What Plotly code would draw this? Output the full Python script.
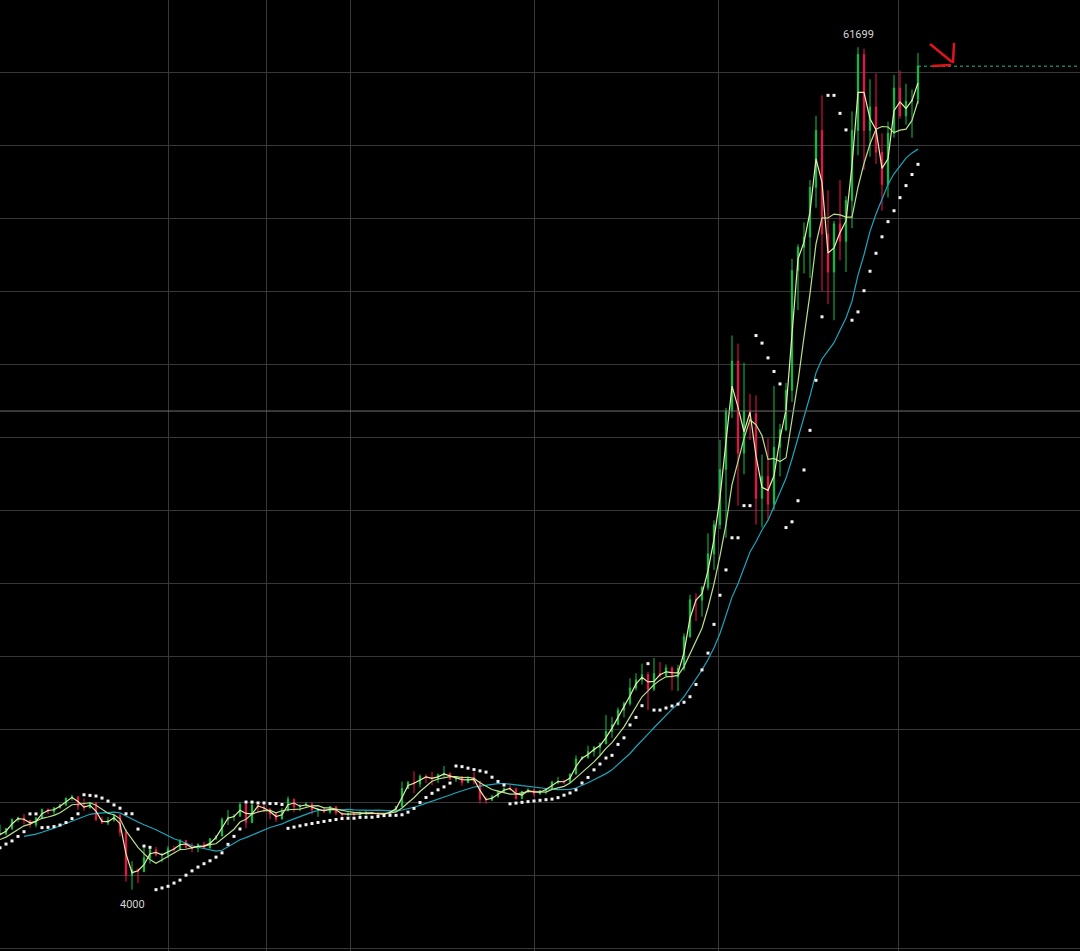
import pandas as pd
import plotly.graph_objects as go

# BTC, 3-day candles (centre day), Dec 2019 - Apr 2021
candle_dates = pd.date_range('2019-12-03', periods=166, freq='3D')

first_open = 7550

close_prices = [
    7200, 7510, 7220, 7250, 6880, 7150, 7510, 7190, 7300, 7190,
    7340, 7760, 7820, 8190, 8810, 8930, 8720, 8440, 8910, 9510,
    9340, 9610, 9810, 10270, 10370, 9710, 9600, 9950, 8800, 8560,
    8760, 9100, 7940, 4970, 5360, 5230, 6190, 6740, 6370, 6410,
    6800, 6780, 7370, 6890, 6840, 7100, 6860, 7480, 7680, 8800,
    8980, 9030, 9840, 8600, 9790, 9670, 9520, 9180, 8840, 9430,
    10200, 9670, 9760, 9870, 9470, 9530, 9310, 9690, 9250, 9120,
    9230, 9130, 9250, 9290, 9240, 9130, 9210, 9380, 9700, 10930,
    11350, 11230, 11770, 11680, 11580, 11870, 11980, 11560, 11750, 11330,
    11700, 11400, 10200, 10130, 10390, 10680, 10940, 10920, 10240, 10730,
    10840, 10560, 10790, 10930, 11380, 11420, 11360, 11920, 12950, 13060,
    13460, 13740, 14000, 14830, 15300, 16300, 16740, 17820, 18370, 18730,
    17730, 18800, 18650, 19190, 18550, 19150, 21330, 23850, 23830, 24700,
    27000, 28990, 32780, 36770, 40200, 33900, 36800, 36600, 30800, 32300,
    30400, 34300, 35500, 38200, 46400, 48000, 48700, 52100, 56000, 48900,
    46300, 49600, 48400, 51200, 56000, 61200, 56000, 57600, 54500, 52300,
    55800, 58900, 57000, 58000, 58100, 60400,
]

high_prices = [
    7750, 7650, 7650, 7290, 7300, 7440, 7520, 7690, 7440, 7530,
    7400, 7790, 8460, 8220, 8880, 9000, 9190, 8790, 8980, 9550,
    9550, 9640, 9860, 10300, 10500, 10400, 10250, 9960, 10000, 8980,
    8980, 9170, 9200, 8150, 5950, 5450, 6900, 6830, 6930, 6520,
    7000, 7000, 7460, 7380, 7200, 7180, 7290, 7530, 7700, 8950,
    9460, 9190, 10000, 9910, 9940, 9830, 9900, 9560, 9310, 9610,
    10380, 10230, 9850, 9990, 9960, 9560, 9560, 9710, 9700, 9280,
    9290, 9280, 9370, 9440, 9340, 9280, 9230, 9400, 9720, 11400,
    11450, 12100, 11900, 11900, 12070, 11950, 12470, 12000, 11780, 11770,
    11720, 12050, 11450, 10400, 10500, 10800, 10990, 11180, 10990, 10770,
    10950, 10920, 10800, 10960, 11440, 11720, 11540, 11950, 13200, 13150,
    13860, 13850, 14080, 15960, 15840, 16480, 16880, 18480, 18820, 19480,
    18920, 19860, 19600, 19420, 19300, 19400, 21550, 24200, 24300, 24800,
    28400, 29300, 34800, 37000, 41950, 41400, 40100, 37950, 37850, 33800,
    34900, 38500, 35900, 38700, 47200, 48200, 49700, 52600, 57000, 58400,
    51900, 49800, 52600, 51500, 57300, 61699, 61600, 59500, 59900, 55800,
    56600, 59800, 60100, 59200, 58800, 61300,
]

low_prices = [
    7150, 7170, 7180, 7060, 6860, 6430, 7080, 7120, 7150, 7170,
    6870, 7270, 7740, 7720, 8080, 8640, 8470, 8250, 8270, 8880,
    9180, 9140, 9560, 9730, 10100, 9470, 9400, 9580, 8700, 8530,
    8420, 8660, 7650, 4550, 4000, 4450, 5220, 5790, 6280, 5880,
    6160, 6600, 6770, 6770, 6560, 6560, 6800, 6830, 7390, 7650,
    8420, 8700, 9000, 8200, 8550, 9250, 9290, 8830, 8640, 8810,
    9350, 9290, 9380, 9640, 9150, 8980, 9260, 9200, 9100, 8890,
    9030, 9020, 8960, 9120, 9160, 9090, 9090, 9130, 9310, 9650,
    10900, 10600, 11000, 11300, 11150, 11300, 11700, 11520, 11380, 11120,
    11300, 11200, 9900, 9880, 10080, 10300, 10630, 10780, 10170, 10200,
    10640, 10380, 10500, 10530, 10880, 11220, 11220, 11340, 11900, 12870,
    12960, 13130, 13200, 13950, 14400, 15280, 15800, 16600, 17650, 18050,
    16300, 17600, 18550, 18600, 17650, 17600, 19000, 21250, 22400, 22700,
    24500, 25900, 28700, 28100, 36300, 30300, 32450, 34800, 29000, 28800,
    29300, 30000, 32300, 35400, 37400, 43700, 46200, 45900, 50700, 45000,
    44100, 43000, 47100, 46300, 49300, 54300, 53300, 54200, 53700, 50500,
    51400, 55500, 56800, 56400, 55500, 57800,
]

open_prices = [first_open] + close_prices[:-1]

df = pd.DataFrame({'date': candle_dates, 'open': open_prices, 'high': high_prices,
                   'low': low_prices, 'close': close_prices})
df['ma_fast'] = df['close'].rolling(2).mean()
df['ma_mid'] = df['close'].rolling(6).mean()
df['ma_long'] = df['close'].rolling(17).mean()


def parabolic_sar(high, low, step=0.04, max_af=0.4):
    sar = [low[0]]
    up = True
    af = step
    ep = high[0]
    for i in range(1, len(high)):
        prev = sar[-1]
        s = prev + af * (ep - prev)
        if up:
            s = min(s, low[i - 1], low[max(i - 2, 0)])
            if low[i] < s:
                up, s, ep, af = False, ep, low[i], step
            elif high[i] > ep:
                ep = high[i]
                af = min(af + step, max_af)
        else:
            s = max(s, high[i - 1], high[max(i - 2, 0)])
            if high[i] > s:
                up, s, ep, af = True, ep, high[i], step
            elif low[i] < ep:
                ep = low[i]
                af = min(af + step, max_af)
        sar.append(s)
    return sar


df['sar'] = parabolic_sar(high_prices, low_prices)

fig = go.Figure()

fig.add_trace(go.Candlestick(
    x=df.date, open=df.open, high=df.high, low=df.low, close=df.close,
    increasing=dict(line=dict(color='#12c24d', width=1), fillcolor='#12c24d'),
    decreasing=dict(line=dict(color='#f0154f', width=1), fillcolor='#f0154f'),
    whiskerwidth=0, hoverinfo='skip'))

fig.add_trace(go.Scatter(x=df.date, y=df.ma_long, mode='lines',
                         line=dict(color='#1ba6bd', width=1.2), hoverinfo='skip'))
fig.add_trace(go.Scatter(x=df.date, y=df.ma_mid, mode='lines',
                         line=dict(color='#b9e08c', width=1.2), hoverinfo='skip'))
fig.add_trace(go.Scatter(x=df.date, y=df.ma_fast, mode='lines',
                         line=dict(color='#eee9a8', width=1.2), hoverinfo='skip'))
fig.add_trace(go.Scatter(x=df.date, y=df.sar, mode='markers',
                         marker=dict(color='#f2f2f2', size=3, symbol='square'),
                         hoverinfo='skip'))

# last price line
fig.add_trace(go.Scatter(x=[df.date.iloc[-1], pd.Timestamp('2021-07-05')],
                         y=[close_prices[-1], close_prices[-1]], mode='lines',
                         line=dict(color='#2fb886', width=1, dash='dot'), hoverinfo='skip'))

# high / low labels
hi_idx = high_prices.index(max(high_prices))
lo_idx = low_prices.index(min(low_prices))
fig.add_annotation(x=candle_dates[hi_idx], y=high_prices[hi_idx], text=str(high_prices[hi_idx]),
                   showarrow=False, yshift=13, font=dict(color='#d4d4d4', size=11))
fig.add_annotation(x=candle_dates[lo_idx], y=low_prices[lo_idx], text=str(low_prices[lo_idx]),
                   showarrow=False, yshift=-15, font=dict(color='#d4d4d4', size=11))

# crosshair line
fig.add_hline(y=36780, line=dict(color='#707070', width=1))


# hand drawn red marker near the last price
def px(x, y):
    return x / 1080, 1 - y / 951


red = dict(color='#e0141a', width=2.5)
for (ax, ay), (bx, by) in [((930, 44), (952, 62)), ((954, 43), (953, 63)), ((932, 66), (951, 65))]:
    x0, y0 = px(ax, ay)
    x1, y1 = px(bx, by)
    fig.add_shape(type='line', xref='paper', yref='paper', x0=x0, y0=y0, x1=x1, y1=y1, line=red)

grid_dates = ['2020-04-01', '2020-05-20', '2020-07-01', '2020-10-01', '2021-01-01', '2021-04-01']

fig.update_layout(
    width=1080, height=951,
    margin=dict(l=0, r=0, t=0, b=0),
    paper_bgcolor='#000000', plot_bgcolor='#000000',
    showlegend=False,
    boxgap=0.7,
    font=dict(family='Roboto, sans-serif'),
    xaxis=dict(type='date', range=['2020-01-08', '2021-07-01'], rangeslider=dict(visible=False),
               tickvals=grid_dates, showticklabels=False, showgrid=True,
               gridcolor='#383838', gridwidth=1, zeroline=False),
    yaxis=dict(range=[-200, 64931], dtick=5000, showticklabels=False, showgrid=True,
               gridcolor='#383838', gridwidth=1, zeroline=False),
)

fig.write_html("out.html", config={'displayModeBar': False},
               post_script="document.body.style.margin='0';document.body.style.background='#000';")
